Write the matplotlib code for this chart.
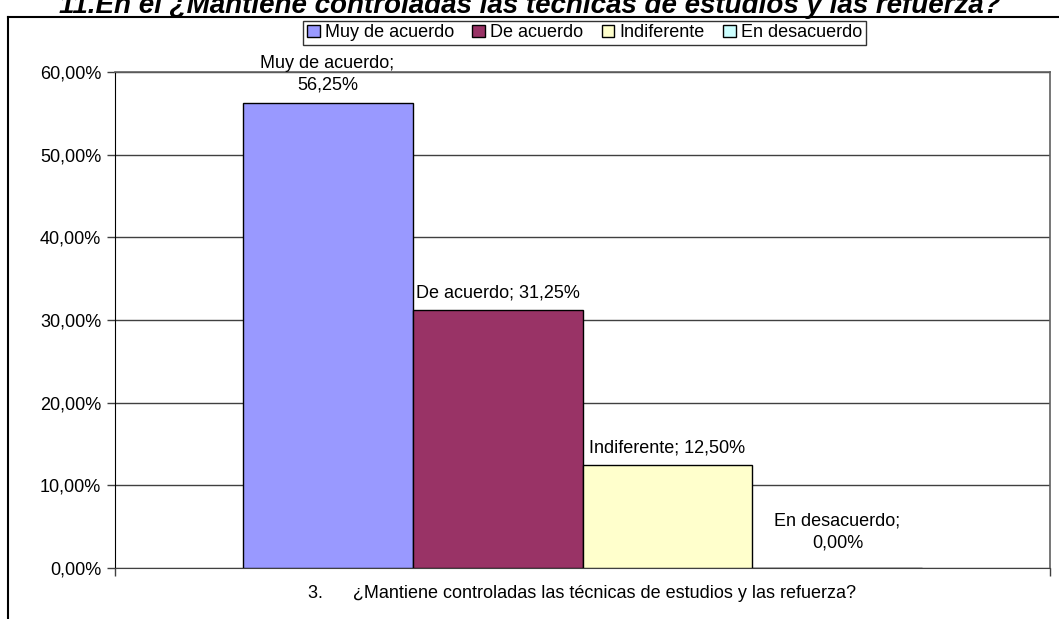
import matplotlib.pyplot as plt
from matplotlib.lines import Line2D
from matplotlib.patches import Patch

plt.rcParams['font.family'] = ['Liberation Sans', 'DejaVu Sans']

categories = ["Muy de acuerdo", "De acuerdo", "Indiferente", "En desacuerdo"]
values = [0.5625, 0.3125, 0.125, 0.0]
value_labels = ["56,25%", "31,25%", "12,50%", "0,00%"]
colors = ["#9999FF", "#993366", "#FFFFCC", "#CCFFFF"]
yticks = [0.0, 0.1, 0.2, 0.3, 0.4, 0.5, 0.6]
ytick_labels = ["0,00%", "10,00%", "20,00%", "30,00%", "40,00%", "50,00%", "60,00%"]

fig = plt.figure(figsize=(10.59, 6.19), dpi=100)
ax = fig.add_axes([0.1086, 0.0824, 0.8829, 0.8013])

# bars side by side inside a single category slot [0, 1]
w = 0.1818
gap = (1 - w * len(values)) / 2
for i, (v, c) in enumerate(zip(values, colors)):
    ax.bar(gap + i * w, v, width=w, align='edge', color=c,
           edgecolor='black', linewidth=1, zorder=3)

# data labels
fs = 13
for i, (cat, v, lab) in enumerate(zip(categories, values, value_labels)):
    xc = gap + (i + 0.5) * w
    if i in (0, 3):
        txt = cat + ";\n" + lab
        off = 7 if i == 0 else 12
    else:
        txt = cat + "; " + lab
        off = 6
    ax.annotate(txt, (xc, v), xytext=(0, off), textcoords='offset points',
                ha='center', va='bottom', fontsize=fs, linespacing=1.35,
                zorder=5)

ax.set_xlim(0, 1)
ax.set_ylim(0, 0.6)
ax.set_yticks(yticks)
ax.set_yticklabels(ytick_labels, fontsize=fs)
ax.set_xticks([0, 1])
ax.set_xticklabels(["", ""])
ax.tick_params(axis='both', direction='out', length=6, width=1, color='#404040')
ax.tick_params(axis='y', pad=4)
ax.yaxis.grid(True, color='#404040', linewidth=1, zorder=0)
ax.set_axisbelow(True)
for s in ['top', 'right']:
    ax.spines[s].set_color('#606060')
    ax.spines[s].set_linewidth(1.2)
ax.spines['left'].set_color('black')
ax.spines['bottom'].set_color('#404040')

ax.set_xlabel("3.      \u00bfMantiene controladas las t\u00e9cnicas de estudios y las refuerza?",
              fontsize=fs, labelpad=3)

# title (clipped at top in the original)
fig.text(0.5, 1 - 13 / 619, "11.En el \u00bfMantiene controladas las t\u00e9cnicas de estudios y las refuerza?",
         ha='center', va='baseline', fontsize=20, fontweight='bold', fontstyle='italic')

# outer chart frame
y_top = 1 - 17 / 619
x_left = 8 / 1059
fig.add_artist(Line2D([x_left, 1.0], [y_top, y_top], color='black', linewidth=1.5,
                      transform=fig.transFigure))
fig.add_artist(Line2D([x_left, x_left], [0, y_top], color='black', linewidth=1.5,
                      transform=fig.transFigure))

handles = [Patch(facecolor=c, edgecolor='black', linewidth=1) for c in colors]
leg = fig.legend(handles, categories, loc='center', bbox_to_anchor=(0.552, 0.947),
                 ncol=4, fontsize=fs, frameon=True, fancybox=False, edgecolor='black',
                 handlelength=0.7, handleheight=0.7, handletextpad=0.3,
                 columnspacing=1.0, borderpad=0.2, borderaxespad=0)
leg.get_frame().set_linewidth(1)

fig.savefig("out.png", dpi=100)
